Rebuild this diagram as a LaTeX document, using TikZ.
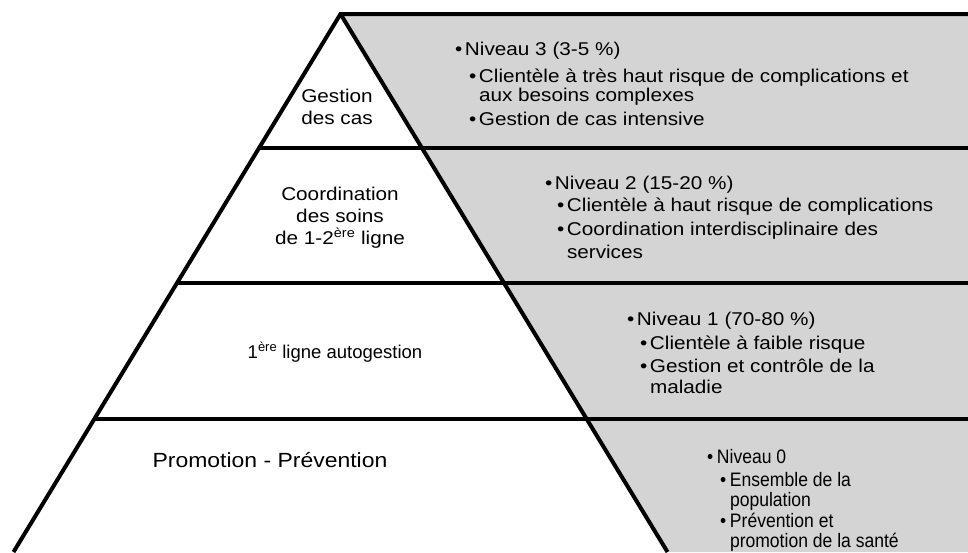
\documentclass[tikz,border=0pt]{standalone}
\usepackage{fontspec}
\setmainfont{Liberation Sans}[FakeStretch=1.12]
\newfontfamily\plainfont{Liberation Sans}
\newfontfamily\narrowfont{Liberation Sans}[FakeStretch=0.9]
\definecolor{bandgrey}{RGB}{212,212,212}
\definecolor{ink}{RGB}{0,0,0}
\tikzset{
  edge/.style={line width=4pt, draw=ink},
  txt/.style={anchor=base west, inner sep=0pt, outer sep=0pt, font=\fontsize{18.5}{21}\selectfont},
  ztxt/.style={anchor=base west, inner sep=0pt, outer sep=0pt, font=\narrowfont\fontsize{19.5}{21}\selectfont},
  lbl/.style={anchor=base, inner sep=0pt, outer sep=0pt, font=\fontsize{18.5}{21}\selectfont},
}
\newcommand{\bul}{\makebox[10pt][l]{•}}
\begin{document}
\begin{tikzpicture}[x=1pt,y=-1pt]
\useasboundingbox (0,0) rectangle (968,552);
% geometry
\coordinate (A) at (340.5,14);
\coordinate (BL) at (13.5,552);
\coordinate (BR) at (667.5,552);
\coordinate (TR) at (968,14);
\coordinate (BRR) at (968,552);
% grey region
\fill[bandgrey] (A) -- (TR) -- (BRR) -- (BR) -- cycle;
% horizontal dividers
\foreach \yy/\nm in {148/a,283/b,419/c}{
  \pgfmathsetmacro{\xl}{340.5-0.608*(\yy-14)}
  \coordinate (L\nm) at (\xl,\yy);
  \coordinate (R\nm) at (968,\yy);
  \draw[edge] (L\nm) -- (R\nm);
}
% pyramid edges
\draw[edge, line join=miter] (BL) -- (A) -- (TR);
\draw[edge] (A) -- (BR);
% level 3
\node[txt] (n3a) at (455,55) {\bul Niveau 3 (3-5 \%)};
\node[txt] (n3b) at (469,82) {\bul Clientèle à très haut risque de complications et};
\node[txt] (n3c) at (479,101) {aux besoins complexes};
\node[txt] (n3d) at (469,125) {\bul Gestion de cas intensive};
% level 2
\node[txt] (n2a) at (545,189) {\bul Niveau 2 (15-20 \%)};
\node[txt] (n2b) at (557,211) {\bul Clientèle à haut risque de complications};
\node[txt] (n2c) at (557,235) {\bul Coordination interdisciplinaire des};
\node[txt] (n2d) at (567,258) {services};
% level 1
\node[txt] (n1a) at (627,325) {\bul Niveau 1 (70-80 \%)};
\node[txt] (n1b) at (640,349) {\bul Clientèle à faible risque};
\node[txt] (n1c) at (640,372) {\bul Gestion et contrôle de la};
\node[txt] (n1d) at (650,393) {maladie};
% level 0
\node[ztxt] (n0a) at (707,463) {\bul Niveau 0};
\node[ztxt] (n0b) at (720,486) {\bul Ensemble de la};
\node[ztxt] (n0c) at (730,506) {population};
\node[ztxt] (n0d) at (720,527) {\bul Prévention et};
\node[ztxt] (n0e) at (730,547) {promotion de la santé};
% left labels
\node[lbl] (g1) at (337,102) {Gestion};
\node[lbl] (g2) at (337,124) {des cas};
\node[lbl] (c1) at (340,200) {Coordination};
\node[lbl] (c2) at (340,222) {des soins};
\node[lbl] (c3) at (340,244) {de 1-2\textsuperscript{ère} ligne};
\node[lbl, font=\plainfont\fontsize{18.5}{21}\selectfont] (l1) at (335,358) {1\textsuperscript{ère} ligne autogestion};
\node[lbl, font=\fontsize{20.5}{23}\selectfont] (p1) at (270,467) {Promotion - Prévention};
\end{tikzpicture}
\end{document}
